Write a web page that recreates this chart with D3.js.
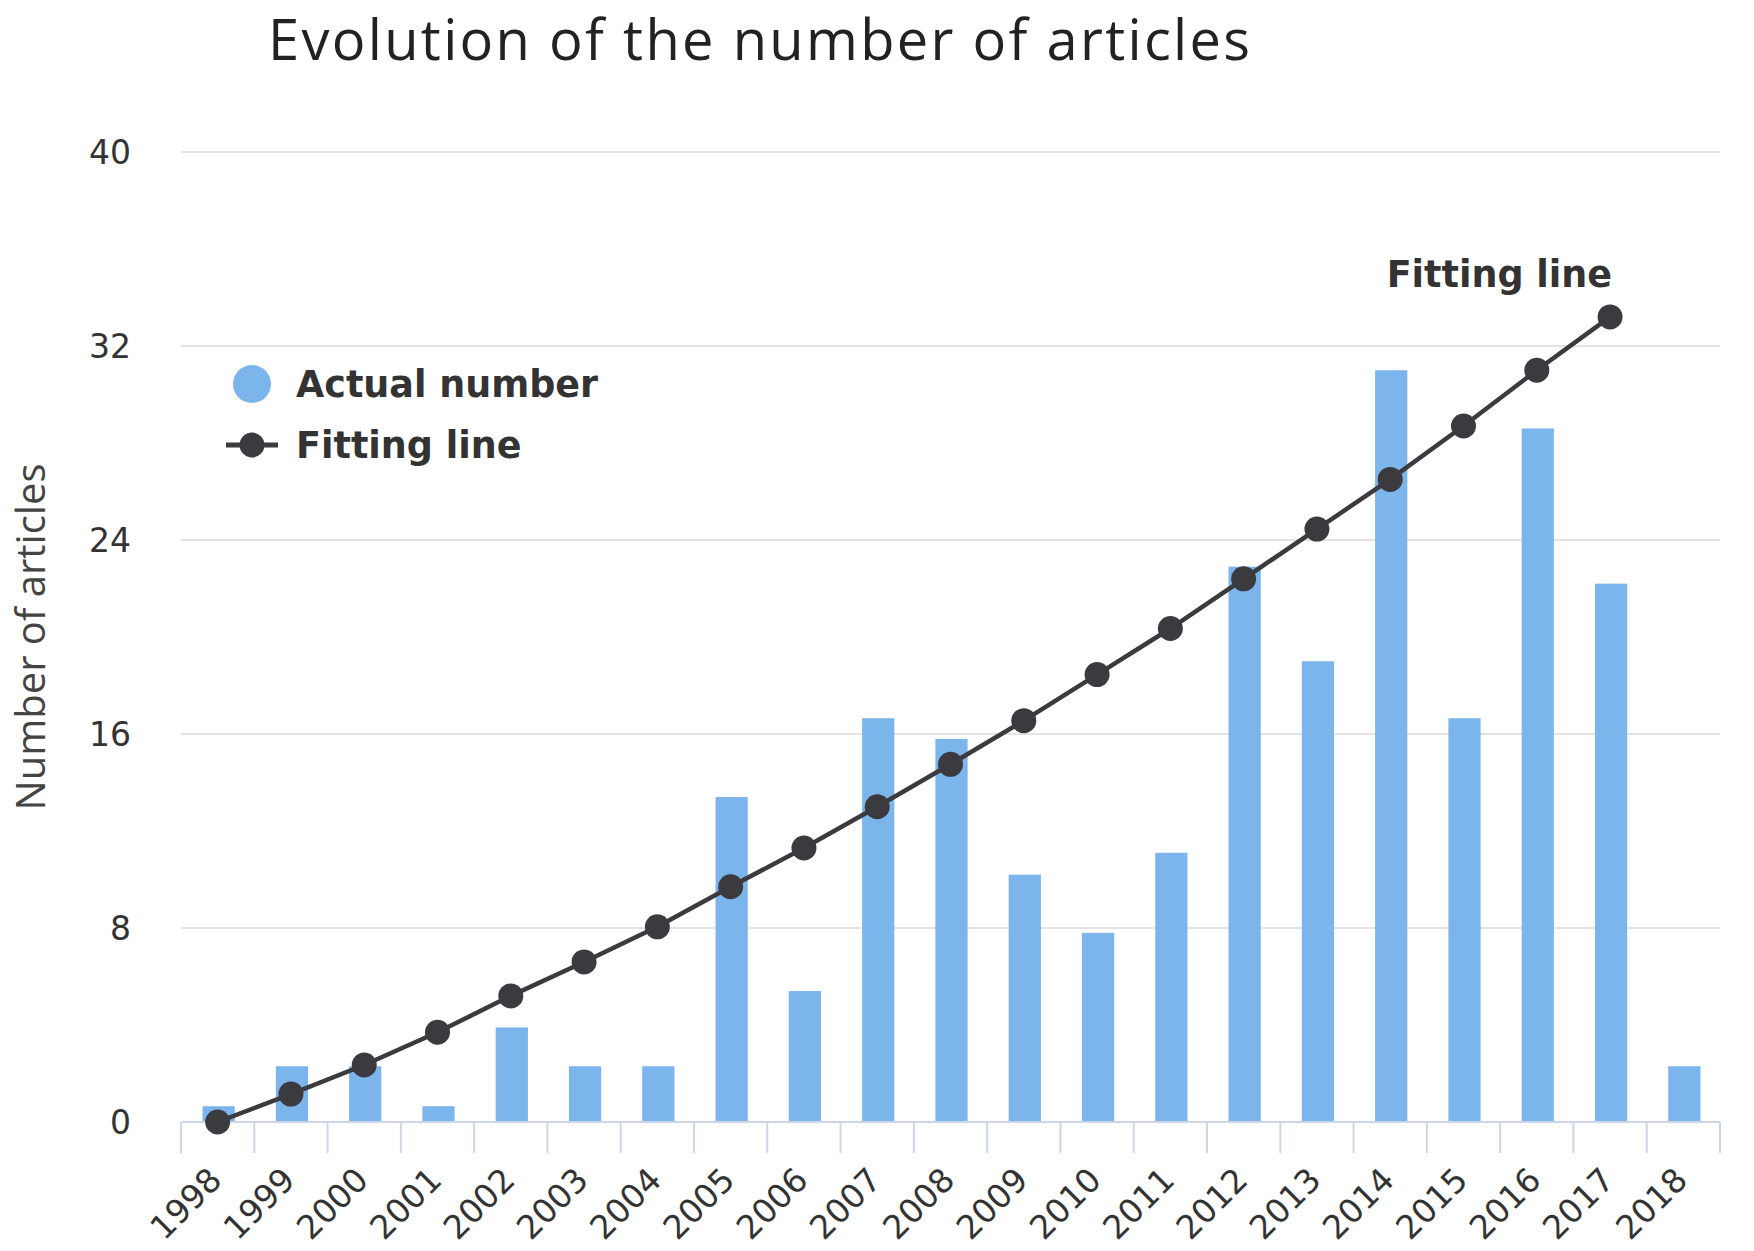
<!DOCTYPE html>
<html>
<head>
<meta charset="utf-8">
<script src="https://cdn.jsdelivr.net/npm/d3@7"></script>
<style>
  body { margin: 0; background: #fff; }
  svg { display: block; }
  .title { font-family: "Open Sans", sans-serif; font-size: 56px; fill: #222; }
  .ytitle { font-family: "Open Sans", sans-serif; font-size: 40px; fill: #444; }
  .tick-label { font-family: "DejaVu Sans", Verdana, sans-serif; font-size: 33px; fill: #333; }
  .legend-text { font-family: "DejaVu Sans", Verdana, sans-serif; font-size: 36.5px; font-weight: bold; fill: #333; }
</style>
</head>
<body>
<div id="chart"></div>
<script>
// data
var years = ["1998", "1999", "2000", "2001", "2002", "2003", "2004", "2005", "2006", "2007",
  "2008", "2009", "2010", "2011", "2012", "2013", "2014", "2015", "2016", "2017", "2018"];
var actualNumber = [0.65, 2.3, 2.3, 0.65, 3.9, 2.3, 2.3, 13.4, 5.4, 16.65,
  15.8, 10.2, 7.8, 11.1, 22.9, 19.0, 31.0, 16.65, 28.6, 22.2, 2.3];
var fittingYears = years.slice(0, 20);
var fittingLine = [0, 1.15, 2.35, 3.7, 5.2, 6.6, 8.05, 9.7, 11.3, 13.0,
  14.75, 16.55, 18.45, 20.35, 22.4, 24.45, 26.5, 28.7, 31.0, 33.2];
var yTicks = [0, 8, 16, 24, 32, 40];

var width = 1754, height = 1251;
var margin = { top: 152, right: 34, bottom: 129, left: 181 };

var barColor = "#7cb5ec";
var lineColor = "#3b3b3f";

var svg = d3.select("#chart").append("svg")
  .attr("width", width)
  .attr("height", height);

var x = d3.scaleBand()
  .domain(years)
  .range([margin.left, width - margin.right]);

var y = d3.scaleLinear()
  .domain([0, 40])
  .range([height - margin.bottom, margin.top]);

// title
svg.append("text")
  .attr("class", "title")
  .attr("x", 268)
  .attr("y", 60)
  .attr("textLength", 982)
  .attr("lengthAdjust", "spacing")
  .text("Evolution of the number of articles");

// grid lines + y labels
svg.append("g")
  .selectAll("line")
  .data(yTicks.slice(1))
  .enter().append("line")
  .attr("x1", margin.left)
  .attr("x2", width - margin.right)
  .attr("y1", function (d) { return y(d); })
  .attr("y2", function (d) { return y(d); })
  .attr("stroke", "#e3e3e6")
  .attr("stroke-width", 2);

svg.append("g")
  .selectAll("text")
  .data(yTicks)
  .enter().append("text")
  .attr("class", "tick-label")
  .attr("x", 131)
  .attr("y", function (d) { return y(d); })
  .attr("dy", "0.36em")
  .attr("text-anchor", "end")
  .text(function (d) { return d; });

// y axis title
svg.append("text")
  .attr("class", "ytitle")
  .attr("transform", "translate(45," + 637 + ") rotate(-90)")
  .attr("text-anchor", "middle")
  .text("Number of articles");

// bars
var barW = x.bandwidth() * 0.44;
svg.append("g")
  .selectAll("rect")
  .data(actualNumber)
  .enter().append("rect")
  .attr("x", function (d, i) { return x(years[i]) + x.bandwidth() / 2 - barW / 2 + 1; })
  .attr("y", function (d) { return y(d); })
  .attr("width", barW)
  .attr("height", function (d) { return y(0) - y(d); })
  .attr("fill", barColor);

// x axis
var xAxis = svg.append("g")
  .attr("transform", "translate(0," + y(0) + ")");

xAxis.append("line")
  .attr("x1", margin.left)
  .attr("x2", width - margin.right)
  .attr("stroke", "#ccd6eb")
  .attr("stroke-width", 2);

xAxis.selectAll(".tick")
  .data(years.concat(["end"]))
  .enter().append("line")
  .attr("x1", function (d, i) { return margin.left + i * x.bandwidth(); })
  .attr("x2", function (d, i) { return margin.left + i * x.bandwidth(); })
  .attr("y1", 0)
  .attr("y2", 31)
  .attr("stroke", "#ccd6eb")
  .attr("stroke-width", 2);

xAxis.selectAll(".tick-label")
  .data(years)
  .enter().append("text")
  .attr("class", "tick-label")
  .attr("text-anchor", "end")
  .attr("transform", function (d) {
    return "translate(" + (x(d) + x.bandwidth() / 2 + 6) + ",60) rotate(-45)";
  })
  .text(function (d) { return d; });

// fitting line
var line = d3.line()
  .x(function (d, i) { return x(fittingYears[i]) + x.bandwidth() / 2; })
  .y(function (d) { return y(d); });

svg.append("path")
  .datum(fittingLine)
  .attr("d", line)
  .attr("fill", "none")
  .attr("stroke", lineColor)
  .attr("stroke-width", 4.5);

svg.append("g")
  .selectAll("circle")
  .data(fittingLine)
  .enter().append("circle")
  .attr("cx", function (d, i) { return x(fittingYears[i]) + x.bandwidth() / 2; })
  .attr("cy", function (d) { return y(d); })
  .attr("r", 12.5)
  .attr("fill", lineColor);

// label on last point
var last = fittingLine.length - 1;
svg.append("text")
  .attr("class", "legend-text")
  .attr("x", x(fittingYears[last]) + x.bandwidth() / 2 + 2)
  .attr("y", y(fittingLine[last]) - 30)
  .attr("text-anchor", "end")
  .text("Fitting line");

// legend
var legend = svg.append("g");
legend.append("circle")
  .attr("cx", 252).attr("cy", 384).attr("r", 19)
  .attr("fill", barColor);
legend.append("text")
  .attr("class", "legend-text")
  .attr("x", 296).attr("y", 384).attr("dy", "0.36em")
  .text("Actual number");

legend.append("line")
  .attr("x1", 226).attr("x2", 278)
  .attr("y1", 445).attr("y2", 445)
  .attr("stroke", lineColor).attr("stroke-width", 5);
legend.append("circle")
  .attr("cx", 252).attr("cy", 445).attr("r", 12.5)
  .attr("fill", lineColor);
legend.append("text")
  .attr("class", "legend-text")
  .attr("x", 296).attr("y", 445).attr("dy", "0.36em")
  .text("Fitting line");
</script>
</body>
</html>
